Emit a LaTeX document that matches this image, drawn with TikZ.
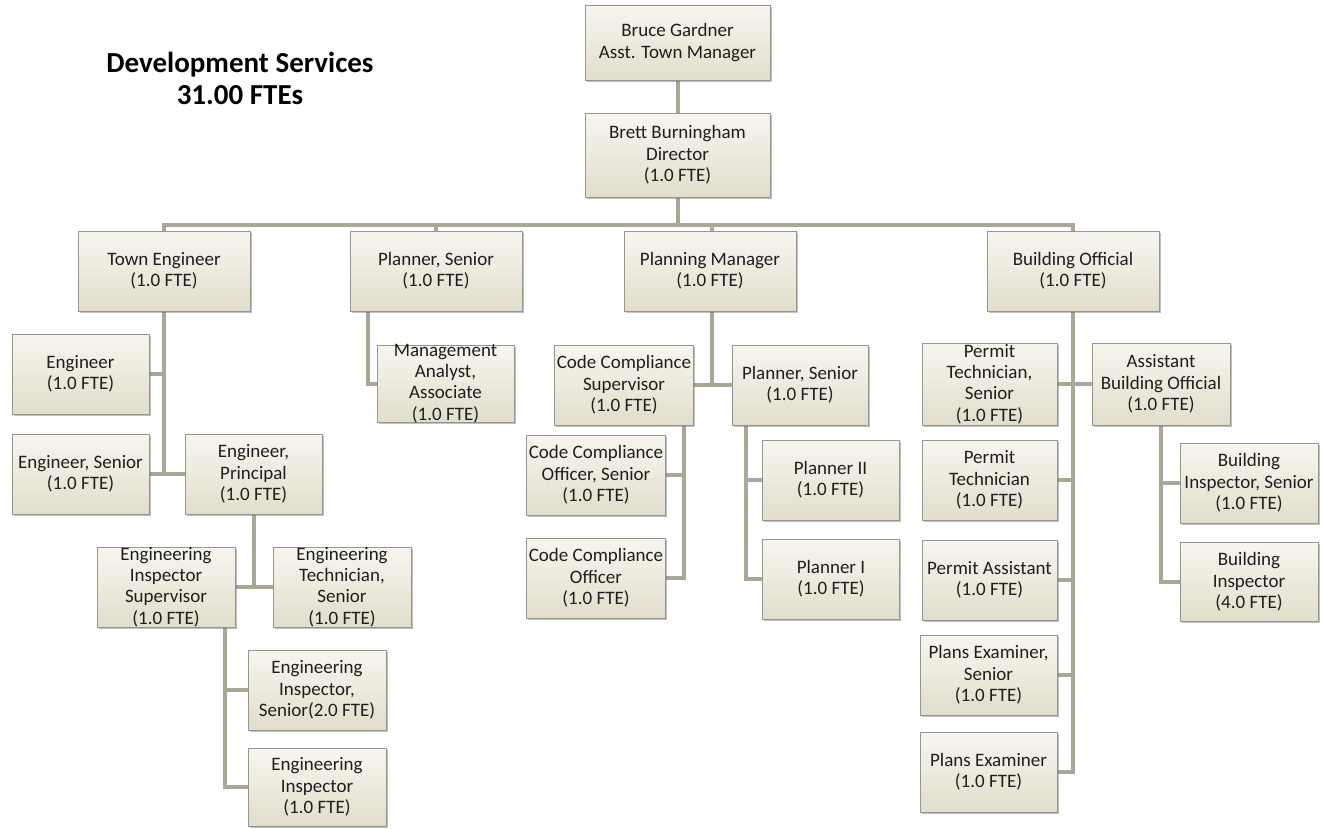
\documentclass[tikz,border=0pt]{standalone}
\usepackage{fontspec}
\setmainfont{Carlito}
\usetikzlibrary{shadows,backgrounds}
\definecolor{boxtop}{RGB}{247,245,238}
\definecolor{boxbot}{RGB}{226,222,204}
\definecolor{boxedge}{RGB}{150,150,145}
\definecolor{linkc}{RGB}{168,168,150}
\definecolor{txtc}{RGB}{30,30,30}
\tikzset{
  bx/.style={draw=boxedge, line width=0.8pt, top color=boxtop, bottom color=boxbot,
    drop shadow={shadow xshift=1.5pt, shadow yshift=-1.8pt, opacity=0.35, fill=black!70},
    align=center, inner sep=2pt, text=txtc,
    font=\fontsize{19}{21.3}\selectfont},
  tight/.style={inner ysep=-4pt},
  link/.style={draw=linkc, line width=4pt},
  ttl/.style={align=center, font=\fontsize{29}{32}\selectfont\bfseries, text=black}
}
\begin{document}
\begin{tikzpicture}[x=1pt,y=-1pt]
\useasboundingbox (0,0) rectangle (1322,828);

\node[ttl] (title) at (240,78) {Development Services\\31.00 FTEs};

\node[bx, minimum width=185, minimum height=75] (bruce) at (677.5,42.5) {Bruce Gardner\\Asst. Town Manager};
\node[bx, minimum width=185, minimum height=84] (brett) at (677.5,155) {Brett Burningham\\Director\\(1.0 FTE)};

\node[bx, minimum width=172, minimum height=80] (teng) at (164,271) {Town Engineer\\(1.0 FTE)};
\node[bx, minimum width=172, minimum height=80] (psen) at (436,271) {Planner, Senior\\(1.0 FTE)};
\node[bx, minimum width=172, minimum height=80] (pman) at (710,271) {Planning Manager\\(1.0 FTE)};
\node[bx, minimum width=172, minimum height=80] (bo) at (1073,271) {Building Official\\(1.0 FTE)};

\node[bx, minimum width=137, minimum height=80] (eng) at (80.5,374) {Engineer\\(1.0 FTE)};
\node[bx, minimum width=137, minimum height=80] (engsr) at (80.5,474) {Engineer, Senior\\(1.0 FTE)};
\node[bx, minimum width=137, minimum height=80] (engpr) at (253.5,474) {Engineer,\\Principal\\(1.0 FTE)};
\node[bx, tight, minimum width=138, minimum height=80] (eis) at (166,587) {Engineering\\Inspector\\Supervisor\\(1.0 FTE)};
\node[bx, tight, minimum width=138, minimum height=80] (ets) at (342,587) {Engineering\\Technician,\\Senior\\(1.0 FTE)};
\node[bx, minimum width=138, minimum height=80] (eisr) at (317,690) {Engineering\\Inspector,\\Senior(2.0 FTE)};
\node[bx, minimum width=138, minimum height=78] (ei) at (317,787) {Engineering\\Inspector\\(1.0 FTE)};

\node[bx, tight, minimum width=137, minimum height=77] (maa) at (445.5,383.5) {Management\\Analyst,\\Associate\\(1.0 FTE)};

\node[bx, minimum width=136, minimum height=80] (ccs) at (624,385) {Code Compliance\\Supervisor\\(1.0 FTE)};
\node[bx, minimum width=136, minimum height=80] (ps2) at (800,385) {Planner, Senior\\(1.0 FTE)};
\node[bx, minimum width=138, minimum height=80] (ccos) at (596,475) {Code Compliance\\Officer, Senior\\(1.0 FTE)};
\node[bx, minimum width=138, minimum height=80] (cco) at (596,578) {Code Compliance\\Officer\\(1.0 FTE)};
\node[bx, minimum width=137, minimum height=80] (p2) at (830.5,480) {Planner II\\(1.0 FTE)};
\node[bx, minimum width=137, minimum height=80] (p1) at (831,579) {Planner I\\(1.0 FTE)};

\node[bx, tight, minimum width=135, minimum height=82] (pts) at (989.5,384) {Permit\\Technician,\\Senior\\(1.0 FTE)};
\node[bx, minimum width=138, minimum height=82] (abo) at (1161,384) {Assistant\\Building Official\\(1.0 FTE)};
\node[bx, minimum width=135, minimum height=80] (pt) at (989.5,480) {Permit\\Technician\\(1.0 FTE)};
\node[bx, minimum width=135, minimum height=80] (pa) at (989.5,580) {Permit Assistant\\(1.0 FTE)};
\node[bx, minimum width=137, minimum height=80] (pes) at (988.5,675) {Plans Examiner,\\Senior\\(1.0 FTE)};
\node[bx, minimum width=137, minimum height=80] (pe) at (988.5,772) {Plans Examiner\\(1.0 FTE)};
\node[bx, minimum width=138, minimum height=80] (bis) at (1249,483) {Building\\Inspector, Senior\\(1.0 FTE)};
\node[bx, minimum width=138, minimum height=79] (bi) at (1249,582) {Building\\Inspector\\(4.0 FTE)};

\coordinate (bar) at (677.5,225);

\begin{scope}[on background layer]
\fill[white] (0,0) rectangle (1322,828);
\draw[link] (bruce.south) -- (brett.north);
\draw[link] (brett.south) -- (bar);
\draw[link] (teng.north) |- (bar) -| (bo.north);
\draw[link] (psen.north) -- (psen.north |- bar);
\draw[link] ([xshift=2pt]pman.north) -- ([xshift=2pt]pman.north |- bar);
% Town Engineer
\draw[link] (teng.south) -- (teng.south |- engsr.east);
\draw[link] (eng.east) -- (eng.east -| teng.south);
\draw[link] (engsr.east) -- (engpr.west);
\draw[link] (engpr.south) -- (engpr.south |- eis.east);
\draw[link] (eis.east) -- (ets.west);
\draw[link] ([xshift=-10pt]eis.south east) |- (ei.west);
\draw[link] (eisr.west) -| ([xshift=-10pt]eis.south east);
% Planner Senior
\draw[link] ([xshift=18pt]psen.south west) |- (maa.west);
% Planning Manager
\draw[link] ([xshift=2pt]pman.south) -- ([xshift=2pt]pman.south |- ccs.east);
\draw[link] (ccs.east) -- (ps2.west);
\draw[link] ([xshift=-10pt]ccs.south east) |- (cco.east);
\draw[link] (ccos.east) -| ([xshift=-10pt]ccs.south east);
\draw[link] ([xshift=14pt]ps2.south west) |- (p1.west);
\draw[link] (p2.west) -| ([xshift=14pt]ps2.south west);
% Building Official
\draw[link] (bo.south) |- (pe.east);
\draw[link] (pts.east) -- (abo.west);
\draw[link] (pt.east) -- (pt.east -| bo.south);
\draw[link] (pa.east) -- (pa.east -| bo.south);
\draw[link] (pes.east) -- (pes.east -| bo.south);
\draw[link] (abo.south) |- (bi.west);
\draw[link] (bis.west) -| (abo.south);
\end{scope}
\end{tikzpicture}
\end{document}
